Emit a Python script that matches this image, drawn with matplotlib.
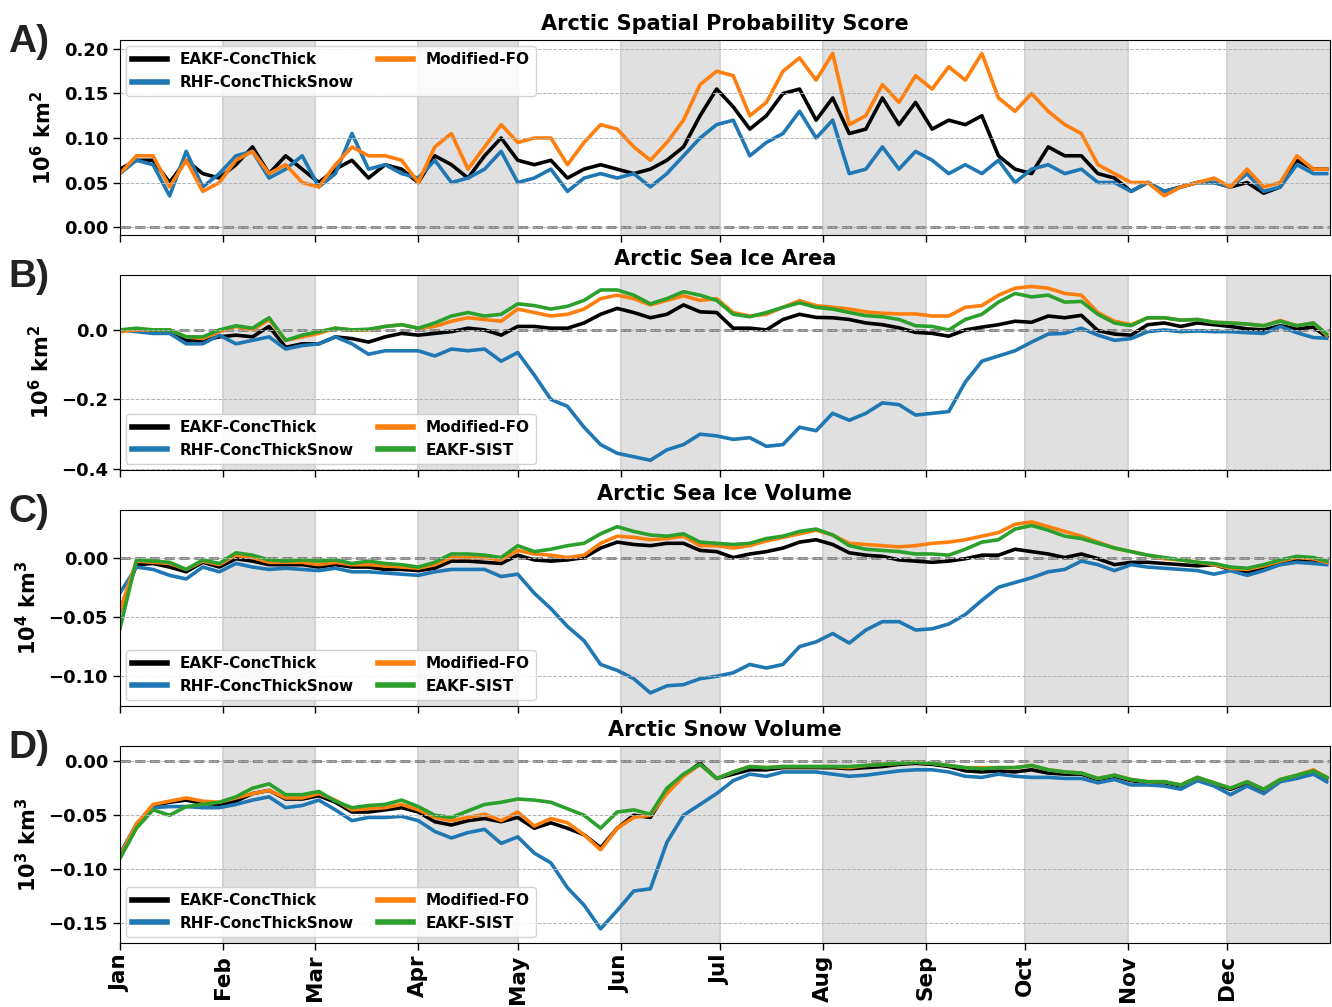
import matplotlib
matplotlib.use('Agg')
import matplotlib.pyplot as plt

# sample days (every 5 days plus last day of year)
days = list(range(0, 365, 5)) + [364]

month_starts = [0, 31, 59, 90, 120, 151, 181, 212, 243, 273, 304, 334]
month_labels = ['Jan', 'Feb', 'Mar', 'Apr', 'May', 'Jun',
                'Jul', 'Aug', 'Sep', 'Oct', 'Nov', 'Dec']
shaded_months = [(31, 59), (90, 120), (151, 181), (212, 243), (273, 304), (334, 365)]

names = ['EAKF-ConcThick', 'RHF-ConcThickSnow', 'Modified-FO', 'EAKF-SIST']
colors = ['black', 'tab:blue', 'tab:orange', 'tab:green']

# A) spatial probability score (10^6 km^2)
sps_eakf = [0.065, 0.075, 0.075, 0.050, 0.075, 0.060, 0.055, 0.070, 0.090, 0.060,
            0.080, 0.065, 0.050, 0.065, 0.075, 0.055, 0.070, 0.065, 0.050, 0.080,
            0.070, 0.055, 0.080, 0.100, 0.075, 0.070, 0.075, 0.055, 0.065, 0.070,
            0.065, 0.060, 0.065, 0.075, 0.090, 0.125, 0.155, 0.135, 0.110, 0.125,
            0.150, 0.155, 0.120, 0.145, 0.105, 0.110, 0.145, 0.115, 0.140, 0.110,
            0.120, 0.115, 0.125, 0.080, 0.065, 0.060, 0.090, 0.080, 0.080, 0.060,
            0.055, 0.040, 0.050, 0.040, 0.045, 0.050, 0.050, 0.045, 0.050, 0.038,
            0.045, 0.075, 0.065, 0.065]
sps_rhf = [0.060, 0.075, 0.070, 0.035, 0.085, 0.045, 0.060, 0.080, 0.085, 0.055,
           0.065, 0.080, 0.045, 0.060, 0.105, 0.065, 0.070, 0.060, 0.055, 0.075,
           0.050, 0.055, 0.065, 0.085, 0.050, 0.055, 0.065, 0.040, 0.055, 0.060,
           0.055, 0.060, 0.045, 0.060, 0.080, 0.100, 0.115, 0.120, 0.080, 0.095,
           0.105, 0.130, 0.100, 0.120, 0.060, 0.065, 0.090, 0.065, 0.085, 0.075,
           0.060, 0.070, 0.060, 0.075, 0.050, 0.065, 0.070, 0.060, 0.065, 0.050,
           0.050, 0.040, 0.050, 0.040, 0.045, 0.050, 0.050, 0.045, 0.060, 0.040,
           0.045, 0.070, 0.060, 0.060]
sps_fo = [0.060, 0.080, 0.080, 0.045, 0.075, 0.040, 0.050, 0.075, 0.085, 0.060,
          0.070, 0.050, 0.045, 0.070, 0.090, 0.080, 0.080, 0.075, 0.050, 0.090,
          0.105, 0.065, 0.090, 0.115, 0.095, 0.100, 0.100, 0.070, 0.095, 0.115,
          0.110, 0.090, 0.075, 0.095, 0.120, 0.160, 0.175, 0.170, 0.125, 0.140,
          0.175, 0.190, 0.165, 0.195, 0.115, 0.125, 0.160, 0.140, 0.170, 0.155,
          0.180, 0.165, 0.195, 0.145, 0.130, 0.150, 0.130, 0.115, 0.105, 0.070,
          0.060, 0.050, 0.050, 0.035, 0.045, 0.050, 0.055, 0.045, 0.065, 0.045,
          0.050, 0.080, 0.065, 0.065]

# B) sea ice area anomaly (10^6 km^2)
area_eakf = [0.000, 0.000, -0.005, -0.005, -0.030, -0.030, -0.020, -0.015, -0.020, 0.010,
             -0.050, -0.040, -0.040, -0.020, -0.025, -0.035, -0.020, -0.010, -0.015, -0.010,
             -0.005, 0.005, 0.000, -0.015, 0.010, 0.010, 0.005, 0.005, 0.020, 0.045,
             0.062, 0.050, 0.035, 0.045, 0.072, 0.052, 0.050, 0.005, 0.005, 0.000,
             0.030, 0.045, 0.036, 0.035, 0.030, 0.020, 0.015, 0.006, -0.007, -0.010,
             -0.018, 0.000, 0.008, 0.015, 0.025, 0.022, 0.040, 0.035, 0.042, -0.002,
             -0.012, -0.015, 0.015, 0.020, 0.010, 0.020, 0.015, 0.010, 0.003, 0.000,
             0.012, 0.003, 0.008, -0.020]
area_rhf = [0.000, -0.005, -0.010, -0.010, -0.040, -0.040, -0.015, -0.040, -0.030, -0.020,
            -0.055, -0.045, -0.040, -0.020, -0.040, -0.070, -0.060, -0.060, -0.060, -0.075,
            -0.055, -0.060, -0.055, -0.090, -0.065, -0.130, -0.200, -0.220, -0.280, -0.330,
            -0.355, -0.365, -0.375, -0.345, -0.330, -0.300, -0.305, -0.315, -0.310, -0.335,
            -0.330, -0.280, -0.290, -0.240, -0.260, -0.240, -0.210, -0.215, -0.245, -0.240,
            -0.235, -0.150, -0.090, -0.075, -0.060, -0.035, -0.012, -0.010, 0.005, -0.015,
            -0.030, -0.025, -0.005, 0.000, -0.005, -0.003, -0.005, -0.005, -0.008, -0.010,
            0.010, -0.008, -0.022, -0.024]
area_fo = [-0.005, 0.000, 0.000, 0.000, -0.020, -0.025, -0.005, 0.010, 0.000, 0.030,
           -0.030, -0.020, -0.010, 0.005, 0.000, 0.000, 0.010, 0.015, 0.005, 0.010,
           0.025, 0.035, 0.030, 0.025, 0.060, 0.050, 0.040, 0.045, 0.060, 0.090,
           0.100, 0.090, 0.072, 0.085, 0.098, 0.085, 0.090, 0.050, 0.040, 0.045,
           0.065, 0.084, 0.070, 0.065, 0.060, 0.052, 0.048, 0.046, 0.046, 0.040,
           0.040, 0.065, 0.070, 0.100, 0.120, 0.125, 0.120, 0.105, 0.100, 0.050,
           0.025, 0.015, 0.035, 0.035, 0.028, 0.030, 0.022, 0.020, 0.017, 0.012,
           0.027, 0.012, 0.020, -0.015]
area_sist = [0.000, 0.005, 0.000, 0.000, -0.020, -0.020, 0.000, 0.012, 0.005, 0.035,
             -0.030, -0.015, -0.005, 0.005, 0.000, 0.002, 0.010, 0.015, 0.005, 0.020,
             0.040, 0.050, 0.040, 0.045, 0.075, 0.070, 0.060, 0.068, 0.085, 0.115,
             0.115, 0.100, 0.075, 0.090, 0.110, 0.100, 0.085, 0.045, 0.038, 0.050,
             0.065, 0.078, 0.065, 0.060, 0.050, 0.041, 0.038, 0.030, 0.012, 0.010,
             0.000, 0.030, 0.045, 0.080, 0.105, 0.095, 0.100, 0.080, 0.082, 0.045,
             0.020, 0.012, 0.035, 0.035, 0.028, 0.030, 0.022, 0.020, 0.017, 0.012,
             0.025, 0.012, 0.020, -0.012]

# C) sea ice volume anomaly (10^4 km^3)
vol_eakf = [-0.045, -0.006, -0.005, -0.008, -0.012, -0.004, -0.008, -0.001, -0.003, -0.006,
            -0.006, -0.006, -0.008, -0.006, -0.008, -0.008, -0.010, -0.010, -0.011, -0.009,
            -0.003, -0.003, -0.004, -0.005, 0.002, -0.002, -0.003, -0.002, 0.000, 0.008,
            0.013, 0.011, 0.010, 0.012, 0.012, 0.006, 0.005, 0.000, 0.003, 0.005,
            0.008, 0.013, 0.015, 0.011, 0.004, 0.002, 0.001, -0.002, -0.003, -0.004,
            -0.003, -0.001, 0.002, 0.002, 0.007, 0.005, 0.003, 0.000, 0.003, -0.001,
            -0.006, -0.004, -0.004, -0.005, -0.006, -0.007, -0.006, -0.010, -0.012, -0.009,
            -0.004, -0.002, -0.002, -0.004]
vol_rhf = [-0.030, -0.008, -0.010, -0.015, -0.018, -0.008, -0.012, -0.005, -0.008, -0.010,
           -0.009, -0.010, -0.011, -0.009, -0.012, -0.012, -0.013, -0.014, -0.015, -0.012,
           -0.010, -0.010, -0.010, -0.016, -0.014, -0.030, -0.043, -0.058, -0.070, -0.090,
           -0.095, -0.102, -0.114, -0.108, -0.107, -0.102, -0.100, -0.097, -0.090, -0.093,
           -0.090, -0.075, -0.071, -0.064, -0.072, -0.061, -0.054, -0.054, -0.061, -0.060,
           -0.056, -0.048, -0.036, -0.025, -0.021, -0.017, -0.012, -0.010, -0.003, -0.006,
           -0.011, -0.006, -0.008, -0.009, -0.010, -0.011, -0.014, -0.011, -0.015, -0.011,
           -0.006, -0.004, -0.005, -0.006]
vol_fo = [-0.045, -0.003, -0.004, -0.005, -0.010, -0.003, -0.006, 0.002, 0.000, -0.004,
          -0.004, -0.004, -0.006, -0.004, -0.006, -0.006, -0.007, -0.008, -0.009, -0.006,
          0.000, 0.000, 0.000, -0.002, 0.006, 0.003, 0.002, 0.000, 0.002, 0.012,
          0.018, 0.017, 0.015, 0.016, 0.018, 0.010, 0.010, 0.008, 0.010, 0.014,
          0.017, 0.020, 0.023, 0.019, 0.012, 0.011, 0.010, 0.009, 0.010, 0.012,
          0.013, 0.015, 0.018, 0.021, 0.028, 0.030, 0.026, 0.022, 0.018, 0.013,
          0.008, 0.005, 0.002, -0.001, -0.002, -0.004, -0.006, -0.009, -0.010, -0.007,
          -0.003, 0.000, -0.001, -0.004]
vol_sist = [-0.060, -0.002, -0.003, -0.004, -0.010, -0.002, -0.005, 0.004, 0.002, -0.002,
            -0.003, -0.002, -0.003, -0.002, -0.005, -0.003, -0.005, -0.006, -0.008, -0.004,
            0.003, 0.003, 0.002, 0.000, 0.010, 0.005, 0.007, 0.010, 0.012, 0.020,
            0.026, 0.022, 0.019, 0.018, 0.020, 0.013, 0.012, 0.011, 0.012, 0.016,
            0.018, 0.022, 0.024, 0.019, 0.010, 0.007, 0.006, 0.005, 0.003, 0.003,
            0.002, 0.007, 0.013, 0.015, 0.024, 0.027, 0.023, 0.018, 0.016, 0.012,
            0.008, 0.005, 0.002, 0.000, -0.002, -0.004, -0.005, -0.008, -0.009, -0.006,
            -0.002, 0.001, 0.000, -0.003]

# D) snow volume anomaly (10^3 km^3)
snow_eakf = [-0.086, -0.060, -0.041, -0.038, -0.036, -0.039, -0.040, -0.037, -0.030, -0.027,
             -0.035, -0.035, -0.032, -0.038, -0.047, -0.047, -0.045, -0.043, -0.047, -0.056,
             -0.059, -0.055, -0.053, -0.056, -0.052, -0.062, -0.057, -0.062, -0.068, -0.080,
             -0.062, -0.050, -0.052, -0.028, -0.013, -0.002, -0.016, -0.012, -0.008, -0.008,
             -0.006, -0.006, -0.006, -0.006, -0.007, -0.006, -0.005, -0.003, -0.002, -0.003,
             -0.005, -0.009, -0.010, -0.009, -0.010, -0.008, -0.011, -0.012, -0.012, -0.017,
             -0.014, -0.018, -0.020, -0.020, -0.023, -0.016, -0.021, -0.026, -0.020, -0.027,
             -0.018, -0.015, -0.010, -0.016]
snow_rhf = [-0.086, -0.058, -0.043, -0.042, -0.042, -0.043, -0.043, -0.040, -0.036, -0.033,
            -0.043, -0.041, -0.036, -0.045, -0.055, -0.052, -0.052, -0.051, -0.055, -0.065,
            -0.071, -0.066, -0.063, -0.076, -0.070, -0.085, -0.094, -0.117, -0.133, -0.155,
            -0.138, -0.120, -0.118, -0.075, -0.050, -0.040, -0.030, -0.018, -0.012, -0.014,
            -0.010, -0.010, -0.010, -0.012, -0.014, -0.013, -0.011, -0.009, -0.008, -0.008,
            -0.010, -0.014, -0.015, -0.012, -0.014, -0.015, -0.015, -0.016, -0.016, -0.020,
            -0.017, -0.022, -0.022, -0.023, -0.026, -0.018, -0.023, -0.031, -0.023, -0.030,
            -0.019, -0.016, -0.012, -0.019]
snow_fo = [-0.088, -0.058, -0.040, -0.037, -0.034, -0.037, -0.038, -0.034, -0.030, -0.027,
           -0.034, -0.034, -0.030, -0.036, -0.045, -0.044, -0.043, -0.040, -0.045, -0.052,
           -0.055, -0.052, -0.049, -0.055, -0.047, -0.060, -0.053, -0.057, -0.068, -0.082,
           -0.062, -0.052, -0.050, -0.030, -0.014, -0.003, -0.016, -0.010, -0.005, -0.006,
           -0.005, -0.005, -0.005, -0.005, -0.006, -0.004, -0.003, -0.002, -0.001, -0.002,
           -0.004, -0.006, -0.006, -0.006, -0.006, -0.004, -0.008, -0.010, -0.011, -0.016,
           -0.013, -0.017, -0.019, -0.019, -0.022, -0.015, -0.020, -0.025, -0.019, -0.026,
           -0.017, -0.013, -0.008, -0.015]
snow_sist = [-0.090, -0.062, -0.045, -0.050, -0.042, -0.040, -0.038, -0.033, -0.025, -0.021,
             -0.031, -0.031, -0.028, -0.037, -0.043, -0.041, -0.040, -0.036, -0.042, -0.050,
             -0.052, -0.046, -0.040, -0.038, -0.035, -0.036, -0.038, -0.044, -0.050, -0.062,
             -0.047, -0.045, -0.049, -0.025, -0.012, -0.003, -0.016, -0.010, -0.005, -0.006,
             -0.005, -0.005, -0.005, -0.005, -0.005, -0.004, -0.003, -0.002, -0.001, -0.002,
             -0.004, -0.006, -0.007, -0.006, -0.006, -0.004, -0.008, -0.010, -0.011, -0.016,
             -0.013, -0.017, -0.019, -0.019, -0.022, -0.015, -0.020, -0.025, -0.019, -0.026,
             -0.017, -0.013, -0.009, -0.015]

plt.rcParams['mathtext.default'] = 'bf'
plt.rcParams['font.weight'] = 'bold'

fig = plt.figure(figsize=(13.32, 10.07), dpi=100)

panels = [
    dict(letter='A)', title='Arctic Spatial Probability Score', ylabel='$10^6$ km$^2$',
         series=[sps_eakf, sps_rhf, sps_fo], ylim=(-0.009, 0.21),
         yticks=[0.0, 0.05, 0.10, 0.15, 0.20], fmt='%.2f', loc='upper left',
         rect=[0.090, 0.7666, 0.9085, 0.1936]),
    dict(letter='B)', title='Arctic Sea Ice Area', ylabel='$10^6$ km$^2$',
         series=[area_eakf, area_rhf, area_fo, area_sist], ylim=(-0.403, 0.158),
         yticks=[-0.4, -0.2, 0.0], fmt='%.1f', loc='lower left',
         rect=[0.090, 0.5333, 0.9085, 0.1936]),
    dict(letter='C)', title='Arctic Sea Ice Volume', ylabel='$10^4$ km$^3$',
         series=[vol_eakf, vol_rhf, vol_fo, vol_sist], ylim=(-0.125, 0.040),
         yticks=[-0.10, -0.05, 0.00], fmt='%.2f', loc='lower left',
         rect=[0.090, 0.2989, 0.9085, 0.1946]),
    dict(letter='D)', title='Arctic Snow Volume', ylabel='$10^3$ km$^3$',
         series=[snow_eakf, snow_rhf, snow_fo, snow_sist], ylim=(-0.168, 0.014),
         yticks=[-0.15, -0.10, -0.05, 0.00], fmt='%.2f', loc='lower left',
         rect=[0.090, 0.0636, 0.9085, 0.1956]),
]


def tick_fmt(fmt):
    # unicode minus like matplotlib's default formatter
    return matplotlib.ticker.FuncFormatter(
        lambda v, pos: (fmt % (0.0 if abs(v) < 1e-12 else v)).replace('-', '\u2212'))


for k, p in enumerate(panels):
    ax = fig.add_axes(p['rect'])
    for a, b in shaded_months:
        ax.axvspan(a, b, color='0.88', zorder=0, lw=0)
    for m in month_starts[1:]:
        ax.axvline(m, color='0.83', lw=1.5, zorder=0.5)
    ax.axhline(0, color='gray', ls='--', lw=2, zorder=1)

    for vals, name, col in zip(p['series'], names, colors):
        ax.plot(days, vals, color=col, lw=2.6, label=name, zorder=2)

    ax.set_xlim(0, 365)
    ax.set_ylim(*p['ylim'])
    ax.set_yticks(p['yticks'])
    ax.yaxis.set_major_formatter(tick_fmt(p['fmt']))
    ax.yaxis.grid(True, ls='--', lw=0.7, color='0.7', zorder=0.6)
    ax.set_axisbelow(False)
    ax.set_xticks(month_starts)
    if k == 3:
        ax.set_xticklabels(month_labels, rotation=90, fontsize=15.5, fontweight='bold')
    else:
        ax.set_xticklabels([])
    ax.tick_params(axis='both', length=5, width=1)
    ax.tick_params(axis='y', labelsize=13)
    for lab in ax.get_yticklabels():
        lab.set_fontweight('bold')
    ax.set_ylabel(p['ylabel'], fontsize=15, fontweight='bold', labelpad=6)
    ax.set_title(p['title'], fontsize=15, fontweight='bold', pad=7)

    leg = ax.legend(loc=p['loc'], ncol=2, prop={'weight': 'bold', 'size': 11},
                    handlelength=2.3, columnspacing=1.6, framealpha=0.85,
                    borderaxespad=0.4)
    leg.get_frame().set_edgecolor('0.8')
    for line in leg.get_lines():
        line.set_linewidth(4)

    top = p['rect'][1] + p['rect'][3]
    fig.text(0.006, top - 0.002, p['letter'], fontsize=28, fontweight='bold',
             family='Liberation Sans', va='center', ha='left', color='#222222')

fig.savefig('out.png', dpi=100)
